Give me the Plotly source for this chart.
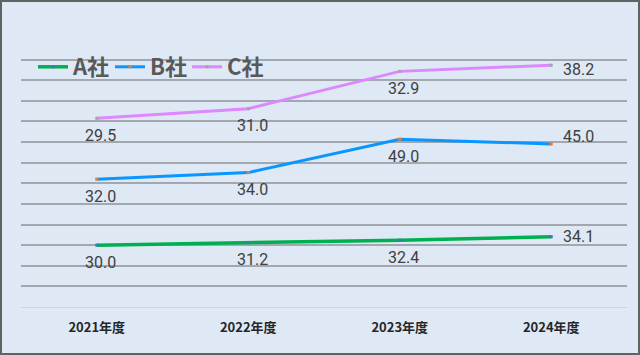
import plotly.graph_objects as go

categories = ["2021年度", "2022年度", "2023年度", "2024年度"]
series_names = ["A社", "B社", "C社"]
a_values = [30.0, 31.2, 32.4, 34.1]
b_values = [32.0, 34.0, 49.0, 45.0]
c_values = [29.5, 31.0, 32.9, 38.2]

line_colors = ["#00b050", "#0a96ff", "#dc88ff"]
marker_colors = ["#4472c4", "#ed7d31", "#a5a5a5"]
line_widths = [3.5, 3, 3]

W, H = 640, 355
ml, mr, mt, mb = 21, 13, 39, 48
pw, ph = W - ml - mr, H - mt - mb

fig = go.Figure()
all_series = [a_values, b_values, c_values]
running = [0.0] * len(categories)
annotations = []
last_yshift = [0, 7, -4]
for si, (name, vals, lc, mc, lw) in enumerate(zip(series_names, all_series,
                                                  line_colors, marker_colors, line_widths)):
    fig.add_trace(go.Scatter(
        x=categories, y=vals, name=name, stackgroup="one", fill="none",
        mode="lines+markers",
        line=dict(color=lc, width=lw),
        marker=dict(color=mc, size=3, symbol="square"),
    ))
    running = [r + v for r, v in zip(running, vals)]
    for i, (cat, v, top) in enumerate(zip(categories, vals, running)):
        last = i == len(categories) - 1
        annotations.append(dict(
            x=cat, y=top, xref="x", yref="y", text=f"{v:.1f}", showarrow=False,
            xanchor="center", yanchor="middle",
            xshift=27 if last else 4, yshift=last_yshift[si] if last else -17,
            font=dict(family="Roboto", size=16, color="#404040"),
        ))

fig.update_layout(
    width=W, height=H,
    margin=dict(l=ml, r=mr, t=mt, b=mb),
    paper_bgcolor="#dee9f5", plot_bgcolor="#dee9f5",
    font=dict(family="Noto Sans CJK JP"),
    showlegend=True,
    annotations=annotations,
    legend=dict(orientation="h", x=(33 - ml) / pw, y=1 - (67 - mt) / ph,
                xanchor="left", yanchor="middle", bgcolor="rgba(0,0,0,0)",
                font=dict(size=22, color="#595959", family="Noto Sans CJK JP", weight="bold"),
                entrywidth=32, entrywidthmode="pixels", itemclick=False),
    xaxis=dict(range=[-0.5, 3.5], showgrid=False, showline=False, zeroline=False, ticks="",
               tickfont=dict(size=13, color="#262626", family="Noto Sans CJK JP", weight="bold"),
               ticklabelstandoff=11, fixedrange=True),
    yaxis=dict(range=[0, 130], dtick=10, showticklabels=False, showgrid=True,
               gridcolor="#a3a8ae", gridwidth=1.5, zeroline=True,
               zerolinecolor="#ccd6e0", zerolinewidth=1, showline=False, fixedrange=True),
    shapes=[dict(type="rect", xref="paper", yref="paper",
                 x0=(1 - ml) / pw, x1=(W - 1 - ml) / pw,
                 y0=-(H - 1 - (mt + ph)) / ph, y1=1 + (mt - 1) / ph,
                 line=dict(color="#5f6366", width=2), fillcolor="rgba(0,0,0,0)", layer="above")],
)

fig.write_html("out.html")
